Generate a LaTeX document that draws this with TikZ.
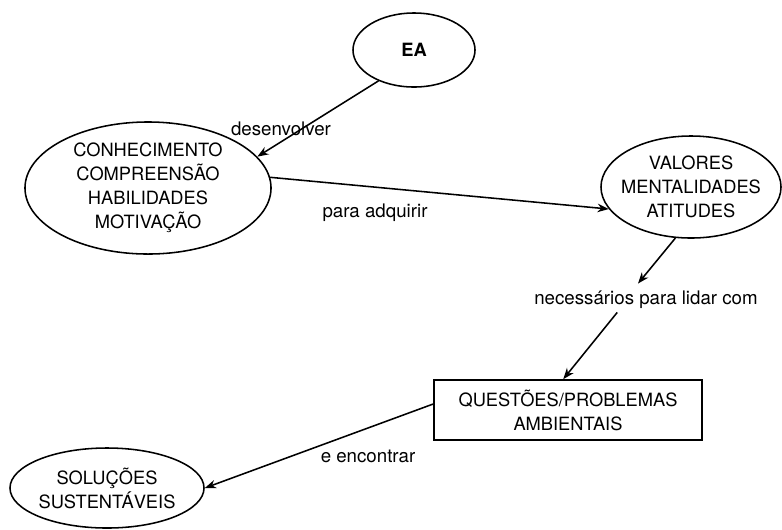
\documentclass[tikz,border=0pt]{standalone}
\usepackage{fontspec}
\setmainfont{TeX Gyre Heros}
\usepackage{tikz}
\usetikzlibrary{shapes,arrows.meta,positioning,calc}

\begin{document}
\begin{tikzpicture}[x=0.025cm, y=-0.025cm, line width=1.1pt,
  >={Stealth[length=8pt,width=6pt]},
  every node/.style={font=\fontsize{13}{17}\selectfont},
  bubble/.style={draw, ellipse, align=center, inner sep=0pt},
  linklabel/.style={inner sep=2pt, font=\fontsize{13.3}{17}\selectfont}]
\useasboundingbox (0,0) rectangle (782,529);
% Concept ellipses
\node[bubble, minimum width=3.05cm, minimum height=1.85cm, font=\fontsize{13}{17}\selectfont\bfseries] (EA) at (414,50) {EA};
\node[bubble, minimum width=6.15cm, minimum height=3.3cm] (CON) at (148,188) {CONHECIMENTO\\COMPREENSÃO\\HABILIDADES\\MOTIVAÇÃO};
\node[bubble, inner xsep=-0.35cm, minimum width=4.5cm, minimum height=2.55cm] (VAL) at (691,187) {VALORES\\MENTALIDADES\\ATITUDES};
\node[bubble, minimum width=4.85cm, minimum height=2cm] (SOL) at (107,488) {SOLUÇÕES\\SUSTENTÁVEIS};

% Problem box
\node[draw, align=center, minimum width=6.7cm, minimum height=1.5cm] (QUE) at (568,410) {QUESTÕES/PROBLEMAS\\AMBIENTAIS};

% Link texts
\node[linklabel] (dev) at (281,129) {desenvolver};
\node[linklabel] (adq) at (375,213) {para adquirir};
\node[linklabel] (nec) at (646,300) {necessários para lidar com};
\node[linklabel] (enc) at (368,456) {e encontrar};

% Links
\draw[->] (EA.221) -- (CON.16);
\draw[->] (CON.5) -- (VAL.195);
\draw[->] (VAL.253) -- ([xshift=-0.2cm,yshift=0.1cm]nec.north);
\draw[->] ([xshift=-0.72cm]nec.south) -- ([xshift=-0.12cm]QUE.north);
\draw[->] ([yshift=0.15cm]QUE.west) -- (SOL.east);
\end{tikzpicture}
\end{document}
